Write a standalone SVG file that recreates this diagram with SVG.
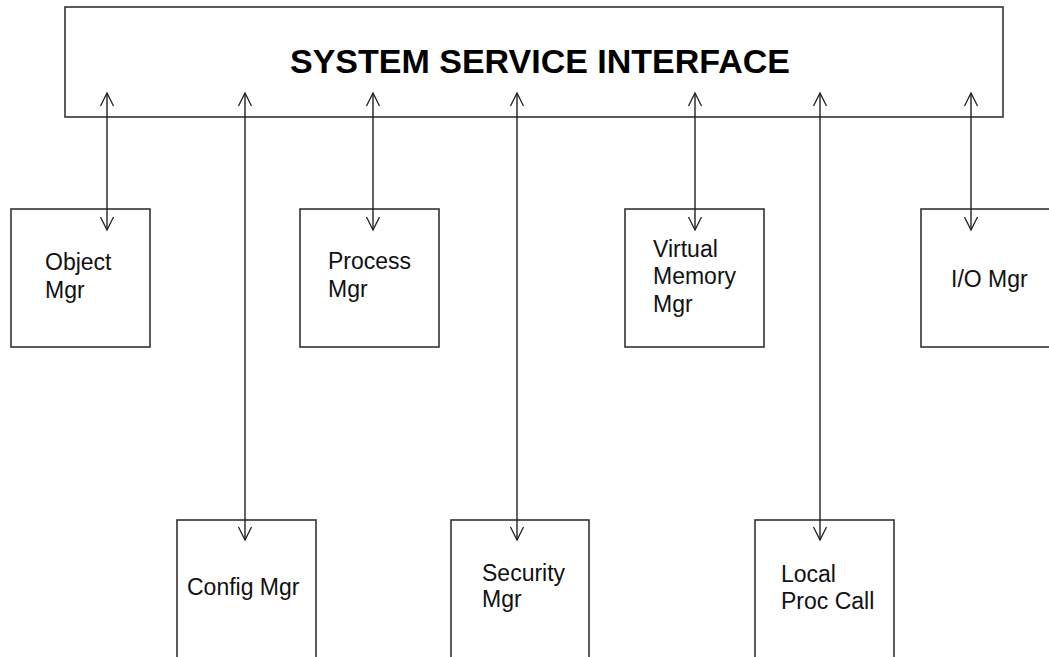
<svg xmlns="http://www.w3.org/2000/svg" width="1049" height="657" viewBox="0 0 1049 657">
<defs>
<style>
.box{fill:#fff;stroke:#333;stroke-width:1.6}
.lbl{font-family:"Liberation Sans",Arial,sans-serif;font-size:23px;fill:#111}
.title{font-family:"Liberation Sans",Arial,sans-serif;font-size:33px;font-weight:bold;fill:#000}
.conn{stroke:#222;stroke-width:1.4;fill:none;marker-start:url(#ah);marker-end:url(#ah)}
</style>
<marker id="ah" viewBox="-14 -8 16 16" markerWidth="16" markerHeight="16" refX="0" refY="0" markerUnits="userSpaceOnUse" orient="auto-start-reverse">
<path d="M-13,-6.5 L0,0 L-13,6.5" fill="none" stroke="#222" stroke-width="1.3"/>
</marker>
</defs>
<rect width="1049" height="657" fill="#fff"/>
<g id="ssi">
<rect class="box" x="65" y="7" width="938" height="110"/>
<text class="title" x="290" y="73" textLength="500" lengthAdjust="spacingAndGlyphs">SYSTEM SERVICE INTERFACE</text>
</g>
<g id="object-mgr">
<rect class="box" x="11" y="209" width="139" height="138"/>
<text class="lbl" x="45" y="270">Object</text>
<text class="lbl" x="45" y="298">Mgr</text>
</g>
<g id="process-mgr">
<rect class="box" x="300" y="209" width="139" height="138"/>
<text class="lbl" x="328" y="269">Process</text>
<text class="lbl" x="328" y="297">Mgr</text>
</g>
<g id="vm-mgr">
<rect class="box" x="625" y="209" width="139" height="138"/>
<text class="lbl" x="653" y="257">Virtual</text>
<text class="lbl" x="653" y="284">Memory</text>
<text class="lbl" x="653" y="312">Mgr</text>
</g>
<g id="io-mgr">
<rect class="box" x="921" y="209" width="140" height="138"/>
<text class="lbl" x="951" y="287">I/O Mgr</text>
</g>
<g id="config-mgr">
<rect class="box" x="177" y="520" width="139" height="150"/>
<text class="lbl" x="187" y="595">Config Mgr</text>
</g>
<g id="security-mgr">
<rect class="box" x="451" y="520" width="138" height="150"/>
<text class="lbl" x="482" y="581">Security</text>
<text class="lbl" x="482" y="607">Mgr</text>
</g>
<g id="lpc">
<rect class="box" x="755" y="520" width="139" height="150"/>
<text class="lbl" x="781" y="582">Local</text>
<text class="lbl" x="781" y="609">Proc Call</text>
</g>
<g id="connectors">
<line class="conn" x1="107" y1="93" x2="107" y2="230"/>
<line class="conn" x1="245" y1="93" x2="245" y2="540"/>
<line class="conn" x1="373" y1="93" x2="373" y2="230"/>
<line class="conn" x1="517" y1="93" x2="517" y2="540"/>
<line class="conn" x1="695" y1="93" x2="695" y2="230"/>
<line class="conn" x1="820" y1="93" x2="820" y2="540"/>
<line class="conn" x1="971" y1="93" x2="971" y2="230"/>
</g>
</svg>
